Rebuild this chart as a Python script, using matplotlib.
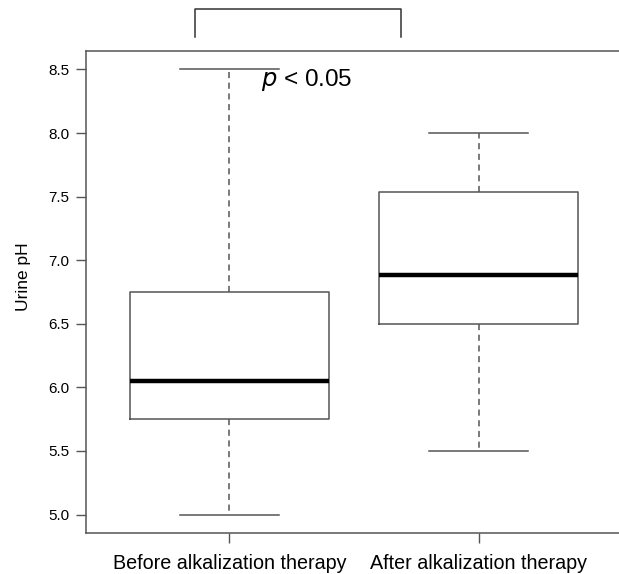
import matplotlib
matplotlib.use("Agg")
import matplotlib.pyplot as plt

plt.rcParams['font.family'] = ['Liberation Sans', 'DejaVu Sans']

# box statistics
groups = ['Before alkalization therapy', 'After alkalization therapy']
whislo = [5.0, 5.5]
q1 = [5.75, 6.5]
med = [6.05, 6.88]
q3 = [6.75, 7.54]
whishi = [8.5, 8.0]
yticks = [5.0, 5.5, 6.0, 6.5, 7.0, 7.5, 8.0, 8.5]

stats = []
for i in range(len(groups)):
    stats.append({'label': groups[i], 'whislo': whislo[i], 'q1': q1[i],
                  'med': med[i], 'q3': q3[i], 'whishi': whishi[i], 'fliers': []})

fig = plt.figure(figsize=(6.19, 5.74), dpi=100)
W, H = 619, 574
# axes runs a little past the right edge, like the cropped original
ax = fig.add_axes([86 / W, (H - 533) / H, 538 / W, 482 / H])

edge = '#555555'
ax.bxp(stats, positions=[1, 2], widths=0.8, showfliers=False,
       boxprops=dict(color=edge, linewidth=1.1),
       medianprops=dict(color='black', linewidth=3.2, solid_capstyle='butt'),
       whiskerprops=dict(color=edge, linewidth=1.1, linestyle=(0, (4, 3))),
       capprops=dict(color=edge, linewidth=1.1),
       capwidths=0.4)

ax.set_xlim(0.424, 2.584)
ax.set_ylim(4.855, 8.645)
ax.set_yticks(yticks)
ax.set_yticklabels(['%.1f' % v for v in yticks], fontsize=11)
ax.set_xticks([1, 2])
ax.set_xticklabels(groups, fontsize=14.2)
ax.tick_params(axis='both', length=7, color=edge, width=1)
ax.tick_params(axis='y', pad=5)
ax.tick_params(axis='x', pad=8)
for s in ax.spines.values():
    s.set_color(edge)
    s.set_linewidth(1.1)
ax.set_ylabel('Urine pH', fontsize=12.5)
ax.yaxis.set_label_coords(-0.102, 0.531)

# significance bracket and label
ax.plot([0.86, 0.86, 1.69, 1.69], [8.755, 8.972, 8.972, 8.755],
        color='#333333', linewidth=1.1, clip_on=False)
ax.text(1.31, 8.37, r'$\it{p}$ < 0.05', fontsize=17.5, ha='center', va='baseline')

fig.savefig('out.png', dpi=100)
